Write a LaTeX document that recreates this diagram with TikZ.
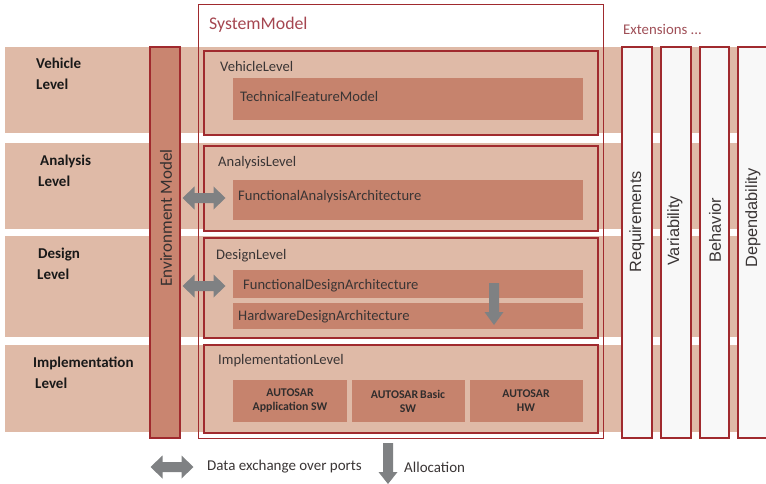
\documentclass[tikz,border=0pt]{standalone}
\usepackage{fontspec}
\setmainfont{Carlito}
\newfontfamily\arialf{Liberation Sans}
\definecolor{band}{HTML}{DFBAA7}
\definecolor{subfill}{HTML}{C6836D}
\definecolor{envfill}{HTML}{C98570}
\definecolor{dred}{HTML}{A02A2E}
\definecolor{arrgray}{HTML}{7F8183}
\definecolor{txt}{HTML}{3A3535}
\definecolor{titlered}{HTML}{A54650}
\definecolor{colfill}{HTML}{F8F8F8}
\tikzset{
  x=1pt,y=-1pt,
  bandbox/.style={fill=band},
  levelbox/.style={draw=dred,line width=1.6pt,fill=band},
  subbox/.style={fill=subfill},
  extcol/.style={draw=dred,line width=1.6pt,fill=colfill},
  lvltxt/.style={anchor=west,inner sep=0,text=txt,font=\fontsize{14.6}{17}\selectfont},
  sidelbl/.style={anchor=west,inner sep=0,align=left,text=black!90,font=\bfseries\fontsize{15}{21}\selectfont},
  autotxt/.style={align=center,inner sep=0,text=txt!85!black,font=\bfseries\fontsize{11.8}{14}\selectfont},
  coltxt/.style={rotate=90,inner sep=0,text=txt,font=\arialf\fontsize{16.3}{18}\selectfont},
  legtxt/.style={anchor=west,inner sep=0,text=txt,font=\fontsize{15}{17}\selectfont},
  pics/dblarr/.style={code={\fill[arrgray] (-21.5,0) -- (-9.5,-11.5) -- (-9.5,-5) -- (9.5,-5) -- (9.5,-11.5) -- (21.5,0) -- (9.5,11.5) -- (9.5,5) -- (-9.5,5) -- (-9.5,11.5) -- cycle;}},
  pics/downarr/.style={code={\fill[arrgray] (-5,0) -- (5,0) -- (5,29) -- (9.5,29) -- (0,#1) -- (-9.5,29) -- (-5,29) -- cycle;}},
}
\begin{document}
\begin{tikzpicture}
\useasboundingbox (0,0) rectangle (766,484);
\clip (0,0) rectangle (766,484);
% background bands
\fill[bandbox] (5,47) rectangle (770,133);
\fill[bandbox] (5,143) rectangle (770,229);
\fill[bandbox] (5,236) rectangle (770,337);
\fill[bandbox] (5,345) rectangle (770,432);
% level labels
\node[sidelbl] (lv) at (36,74) {Vehicle\\Level};
\node[sidelbl] (la) at (38,171) {\hspace{2pt}Analysis\\Level};
\node[sidelbl] (ld) at (37,264) {\hspace{1pt}Design\\Level};
\node[sidelbl] (li) at (33,373) {Implementation\\\hspace{2pt}Level};
% environment model
\draw[draw=dred,line width=1.6pt,fill=envfill] (150,47) rectangle (180,438);
\node[rotate=90,inner sep=0,text=txt!90!black,font=\fontsize{17}{19}\selectfont] (env) at (166,218) {Environment Model};
% system model
\draw[dred,line width=1pt] (198,5) rectangle (603,438);
\node[anchor=west,inner sep=0,text=titlered,font=\fontsize{17.8}{20}\selectfont] (sm) at (209,25) {SystemModel};
% level boxes
\draw[levelbox] (204,51) rectangle (598,135);
\draw[levelbox] (204,146) rectangle (598,231);
\draw[levelbox] (204,238) rectangle (598,338);
\draw[levelbox] (204,345) rectangle (598,433);
% sub boxes
\fill[subbox] (233,78) rectangle (583,120);
\fill[subbox] (233,180) rectangle (583,220);
\fill[subbox] (233,270) rectangle (583,298);
\fill[subbox] (233,303) rectangle (583,329);
\fill[subbox] (233,380) rectangle (347,422);
\fill[subbox] (352,380) rectangle (465,422);
\fill[subbox] (470,380) rectangle (583,422);
% level texts
\node[lvltxt] (vl) at (220,66) {VehicleLevel};
\node[lvltxt] (tfm) at (240,96) {TechnicalFeatureModel};
\node[lvltxt] (al) at (218,163) {AnalysisLevel};
\node[lvltxt] (faa) at (238,197) {FunctionalAnalysisArchitecture};
\node[lvltxt] (dl) at (216,256) {DesignLevel};
\node[lvltxt] (fda) at (243,286) {FunctionalDesignArchitecture};
\node[lvltxt] (hda) at (238,317) {HardwareDesignArchitecture};
\node[lvltxt] (il) at (218,361) {ImplementationLevel};
\node[autotxt] (aas) at (290,401) {AUTOSAR\\Application SW};
\node[autotxt] (abs) at (408,401) {AUTOSAR\,Basic\\SW};
\node[autotxt] (ahw) at (526,401) {AUTOSAR\\HW};
% extensions
\node[anchor=west,inner sep=0,text=titlered!85!gray,font=\fontsize{14.8}{17}\selectfont] (ext) at (623,29) {Extensions ...};
\draw[extcol] (622,47) rectangle (652,438);
\draw[extcol] (661,47) rectangle (691,438);
\draw[extcol] (700,47) rectangle (729,438);
\draw[extcol] (738,47) rectangle (768,438);
\node[coltxt] (req) at (637,222) {Requirements};
\node[coltxt] (var) at (675,231) {Variability};
\node[coltxt] (beh) at (715,230) {Behavior};
\node[coltxt] (dep) at (753,218) {Dependability};
% arrows
\pic at (204,198) {dblarr};
\pic at (204,286) {dblarr};
\pic at (494,283) {downarr=42};
% legend
\pic at (172,467) {dblarr};
\node[legtxt] (leg1) at (207,467) {Data exchange over ports};
\pic at (388,443) {downarr=41};
\node[legtxt] (leg2) at (404,467) {Allocation};
\end{tikzpicture}
\end{document}
